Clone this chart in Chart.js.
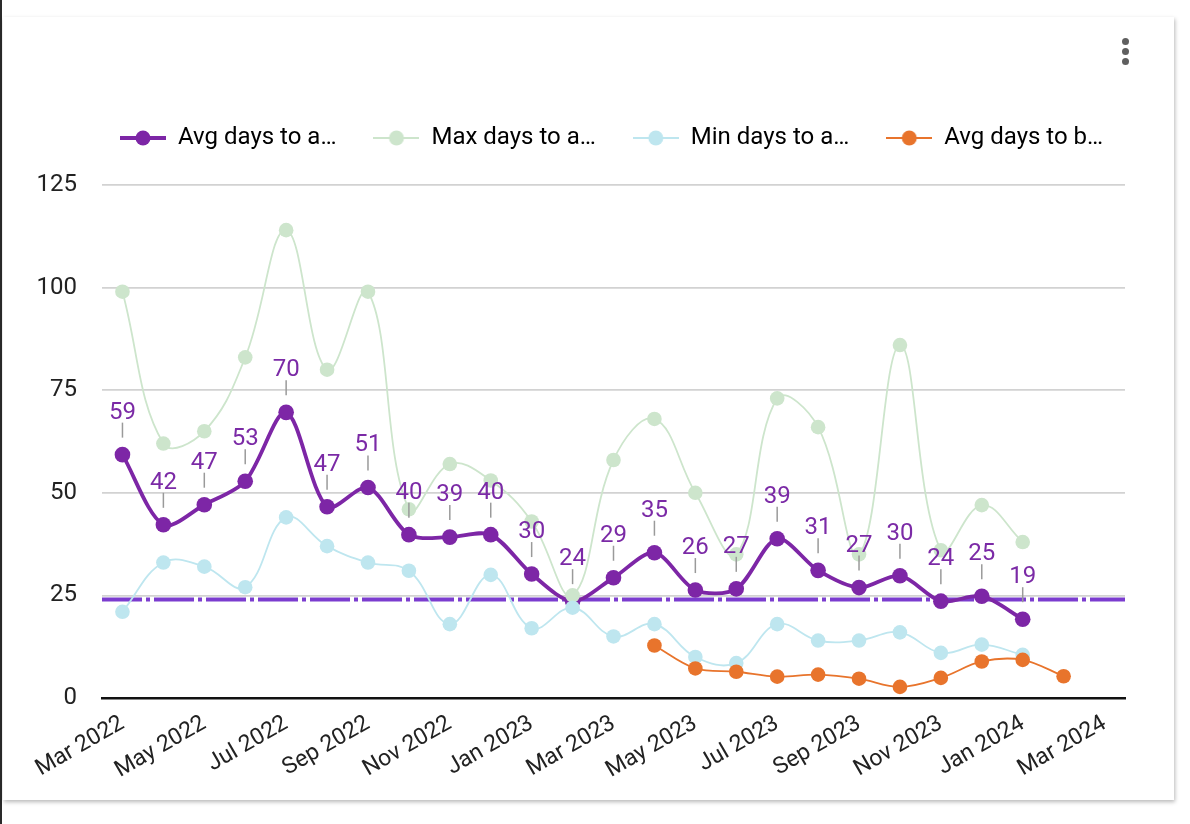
<!DOCTYPE html>
<html>
<head>
<meta charset="utf-8">
<title>Days to approve</title>
<script src="https://cdn.jsdelivr.net/npm/chart.js@4.4.1/dist/chart.umd.min.js"></script>
<style>
  html, body { margin: 0; padding: 0; background: #fff; }
  body { width: 1190px; height: 824px; position: relative; overflow: hidden; font-family: Roboto, sans-serif; }
  .edge { position: absolute; left: 0; top: 0; width: 2px; height: 824px; background: #2a2a2a; }
  .card {
    position: absolute; left: 3px; top: 17px; width: 1171px; height: 783px;
    background: #fff; box-shadow: 1px 2px 4px rgba(0,0,0,0.28);
  }
  .menu { position: absolute; left: 1122px; top: 38px; width: 8px; }
  .menu span { display: block; width: 7px; height: 7px; border-radius: 50%; background: #5f5f5f; margin-bottom: 3px; }
  .wrap { position: absolute; left: 0; top: 0; width: 1190px; height: 824px; }
</style>
</head>
<body>
<div class="edge"></div>
<div class="card"></div>
<div class="menu"><span></span><span></span><span></span></div>
<div class="wrap"><canvas id="chart"></canvas></div>

<script>
// Months on the x axis (Mar 2022 - Mar 2024)
const months = [
  'Mar 2022', 'Apr 2022', 'May 2022', 'Jun 2022', 'Jul 2022', 'Aug 2022', 'Sep 2022',
  'Oct 2022', 'Nov 2022', 'Dec 2022', 'Jan 2023', 'Feb 2023', 'Mar 2023', 'Apr 2023',
  'May 2023', 'Jun 2023', 'Jul 2023', 'Aug 2023', 'Sep 2023', 'Oct 2023', 'Nov 2023',
  'Dec 2023', 'Jan 2024', 'Feb 2024', 'Mar 2024'
];

// Series values
const avgApprove = [59.3, 42.2, 47.1, 52.8, 69.6, 46.6, 51.3, 39.8, 39.2, 39.8, 30.2, 23.6,
  29.3, 35.4, 26.3, 26.6, 38.8, 31.1, 26.9, 29.8, 23.6, 24.8, 19.2, null, null];
const maxApprove = [99, 62, 65, 83, 114, 80, 99, 46, 57, 53, 43, 25,
  58, 68, 50, 35, 73, 66, 35, 86, 36, 47, 38, null, null];
const minApprove = [21, 33, 32, 27, 44, 37, 33, 31, 18, 30, 17, 22,
  15, 18, 10, 8.5, 18, 14, 14, 16, 11, 13, 10.5, null, null];
const avgB = [null, null, null, null, null, null, null, null, null, null, null, null,
  null, 12.8, 7.2, 6.4, 5.2, 5.7, 4.7, 2.7, 4.9, 8.9, 9.3, 5.3, null];

const legendNames = ['Avg days to a…', 'Max days to a…', 'Min days to a…', 'Avg days to b…'];
const refValue = 24;
const yTicks = [0, 25, 50, 75, 100, 125];

const PURPLE = '#7d26a6';
const GREEN = '#cde5cc';
const CYAN = '#bee6ef';
const ORANGE = '#e8742c';

// line + dot marker for the legend
function legendMarker(color, lineW) {
  const c = document.createElement('canvas');
  c.width = 46;
  c.height = 22;
  const g = c.getContext('2d');
  g.strokeStyle = color;
  g.lineWidth = lineW;
  g.beginPath();
  g.moveTo(0, 11);
  g.lineTo(46, 11);
  g.stroke();
  g.fillStyle = color;
  g.beginPath();
  g.arc(23, 11, 7.5, 0, Math.PI * 2);
  g.fill();
  return c;
}
const markers = [legendMarker(PURPLE, 4), legendMarker(GREEN, 2), legendMarker(CYAN, 2), legendMarker(ORANGE, 2)];

// put the legend row where the reference has it (first marker at x=120)
const legendPlace = {
  id: 'legendPlace',
  afterLayout(chart) {
    const lg = chart.legend;
    const pad = lg.options.labels.padding;
    lg.right = chart.width;
    lg.left = 2 * 120 - pad - lg.right + lg.lineWidths[0];
    lg.top = 89;
    lg.bottom = lg.top + lg.height;
  }
};

// dash-dot reference line across the plot
const refLine = {
  id: 'refLine',
  beforeDatasetsDraw(chart) {
    const { ctx, chartArea, scales } = chart;
    const py = scales.y.getPixelForValue(refValue);
    ctx.save();
    ctx.strokeStyle = '#7b3ccf';
    ctx.lineWidth = 4;
    ctx.setLineDash([40, 4, 4, 4]);
    ctx.beginPath();
    ctx.moveTo(chartArea.left, py);
    ctx.lineTo(chartArea.right, py);
    ctx.stroke();
    ctx.restore();
  }
};

// value labels with small leader lines on the avg series
const valueLabels = {
  id: 'valueLabels',
  afterDatasetsDraw(chart) {
    const { ctx } = chart;
    const meta = chart.getDatasetMeta(0);
    ctx.save();
    ctx.font = '24px Roboto';
    ctx.textAlign = 'center';
    ctx.textBaseline = 'alphabetic';
    meta.data.forEach((pt, i) => {
      const v = avgApprove[i];
      if (v === null) return;
      ctx.strokeStyle = '#9a9a9a';
      ctx.lineWidth = 1.5;
      ctx.beginPath();
      ctx.moveTo(pt.x, pt.y - 17);
      ctx.lineTo(pt.x, pt.y - 32);
      ctx.stroke();
      ctx.fillStyle = '#7b2aa6';
      ctx.fillText(String(Math.round(v)), pt.x, pt.y - 36);
    });
    ctx.restore();
  }
};

const ctx = document.getElementById('chart').getContext('2d');
new Chart(ctx, {
  type: 'line',
  data: {
    labels: months,
    datasets: [
      {
        label: legendNames[0], data: avgApprove, order: 4,
        borderColor: PURPLE, backgroundColor: PURPLE, borderWidth: 3.8,
        pointRadius: 7.8, pointBorderWidth: 0, tension: 0.3
      },
      {
        label: legendNames[1], data: maxApprove, order: 3,
        borderColor: GREEN, backgroundColor: GREEN, borderWidth: 1.8,
        pointRadius: 7.3, pointBorderWidth: 0, tension: 0.4
      },
      {
        label: legendNames[2], data: minApprove, order: 2,
        borderColor: CYAN, backgroundColor: CYAN, borderWidth: 1.8,
        pointRadius: 7.3, pointBorderWidth: 0, tension: 0.4
      },
      {
        label: legendNames[3], data: avgB, order: 1,
        borderColor: ORANGE, backgroundColor: ORANGE, borderWidth: 1.8,
        pointRadius: 7.3, pointBorderWidth: 0, tension: 0.35
      }
    ]
  },
  options: {
    responsive: true,
    maintainAspectRatio: false,
    animation: false,
    layout: { padding: { left: 20, right: 65, top: 114, bottom: 26 } },
    plugins: {
      tooltip: { enabled: false },
      legend: {
        position: 'top',
        labels: {
          usePointStyle: true,
          pointStyleWidth: 46,
          padding: 37,
          color: '#222',
          font: { family: 'Roboto', size: 24 },
          generateLabels: (chart) => chart.data.datasets.map((ds, i) => ({
            text: legendNames[i],
            pointStyle: markers[i],
            fillStyle: ds.borderColor,
            strokeStyle: ds.borderColor,
            lineWidth: 0,
            hidden: false,
            datasetIndex: i
          }))
        }
      }
    },
    scales: {
      x: {
        offset: true,
        grid: { display: false, drawTicks: false },
        border: { display: true, color: '#111', width: 2.5 },
        ticks: {
          autoSkip: false,
          minRotation: 30,
          maxRotation: 30,
          padding: 12,
          color: '#222',
          font: { family: 'Roboto', size: 23 },
          callback: (val, i) => (i % 2 === 0 ? months[i] : '')
        },
        afterFit: (scale) => { scale.height = 100; }
      },
      y: {
        min: 0,
        max: 125,
        grid: { color: '#d2d2d2', lineWidth: 1.8, drawTicks: false },
        border: { display: false },
        afterBuildTicks: (scale) => { scale.ticks = yTicks.map(v => ({ value: v })); },
        ticks: {
          padding: 25,
          color: '#222',
          font: { family: 'Roboto', size: 24 }
        },
        afterFit: (scale) => { scale.width = 82; }
      }
    }
  },
  plugins: [legendPlace, refLine, valueLabels]
});
</script>
</body>
</html>
